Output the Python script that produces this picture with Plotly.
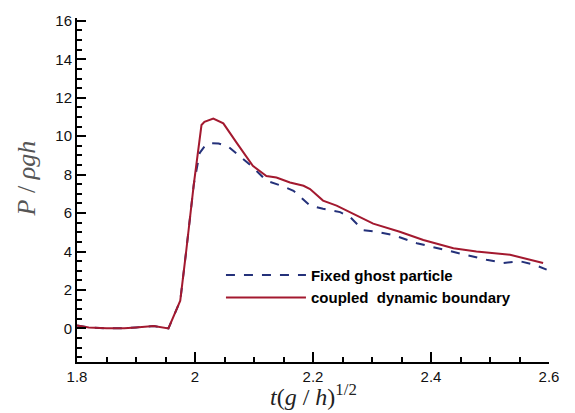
import plotly.graph_objects as go

# Fixed ghost particle (dashed)
t_fixed = [1.80, 1.82, 1.85, 1.88, 1.90, 1.93, 1.955, 1.975, 1.985, 1.998, 2.008, 2.018, 2.025, 2.040, 2.056,
           2.076, 2.099, 2.121, 2.147, 2.167, 2.195, 2.217, 2.246, 2.263, 2.285, 2.308, 2.336, 2.376,
           2.421, 2.455, 2.494, 2.523, 2.551, 2.574, 2.596]
p_fixed = [0.15, 0.05, 0.0, 0.0, 0.05, 0.12, 0.0, 1.44, 4.0, 7.5, 9.13, 9.55, 9.64, 9.62, 9.47,
           8.96, 8.36, 7.68, 7.42, 7.16, 6.39, 6.22, 6.05, 5.79, 5.11, 5.03, 4.86, 4.43,
           4.09, 3.83, 3.57, 3.40, 3.49, 3.32, 3.06]

# Coupled dynamic boundary (solid)
t_coupled = [1.80, 1.82, 1.85, 1.88, 1.90, 1.93, 1.955, 1.975, 1.985, 1.998, 2.011, 2.016, 2.031, 2.048,
             2.071, 2.098, 2.121, 2.138, 2.161, 2.184, 2.195, 2.217, 2.240, 2.257, 2.302, 2.347,
             2.387, 2.438, 2.477, 2.534, 2.568, 2.59]
p_coupled = [0.15, 0.05, 0.0, 0.0, 0.05, 0.12, 0.0, 1.44, 4.0, 7.5, 10.58, 10.75, 10.92, 10.67,
             9.64, 8.46, 7.93, 7.85, 7.59, 7.42, 7.25, 6.65, 6.39, 6.14, 5.45, 5.03,
             4.60, 4.17, 4.00, 3.83, 3.57, 3.40]

x_ticks = [1.8, 2.0, 2.2, 2.4, 2.6]
x_ticklabels = ["1.8", "2", "2.2", "2.4", "2.6"]
y_ticks = [0, 2, 4, 6, 8, 10, 12, 14, 16]

fig = go.Figure()
fig.add_trace(go.Scatter(x=t_fixed, y=p_fixed, mode="lines", name="<b>Fixed ghost particle</b>",
                         line=dict(color="#24317a", width=2, dash="dash")))
fig.add_trace(go.Scatter(x=t_coupled, y=p_coupled, mode="lines", name="<b>coupled  dynamic boundary</b>",
                         line=dict(color="#a3192f", width=2)))

tickfont = dict(family="Liberation Sans, Arial", size=15, color="#111")
fig.update_layout(
    width=575, height=413,
    margin=dict(l=77, r=26, t=13, b=51),
    paper_bgcolor="white", plot_bgcolor="white",
    showlegend=True,
    legend=dict(x=0.305, y=0.30, xanchor="left", yanchor="top",
                bgcolor="rgba(0,0,0,0)", font=dict(family="Liberation Sans, Arial", size=15, color="black"),
                tracegroupgap=0, itemwidth=80),
    xaxis=dict(range=[1.8, 2.6], tickvals=x_ticks, ticktext=x_ticklabels, ticks="inside", ticklen=10,
               tickwidth=2, tickcolor="black", showline=True, linecolor="black", linewidth=2,
               showgrid=False, zeroline=False, tickfont=tickfont,
               minor=dict(dtick=0.05, ticks="inside", ticklen=5, tickwidth=1.5, tickcolor="black")),
    yaxis=dict(range=[-1.75, 16.15], tickvals=y_ticks, ticks="inside", ticklen=9,
               tickwidth=2, tickcolor="black", showline=True, linecolor="black", linewidth=2,
               showgrid=False, zeroline=False, tickfont=tickfont,
               minor=dict(dtick=0.5, ticks="inside", ticklen=5, tickwidth=1.5, tickcolor="black")),
    annotations=[
        dict(text="<i>t</i>(<i>g</i> / <i>h</i>)<sup>1/2</sup>", xref="paper", yref="paper",
             x=0.5, y=-0.1455, xanchor="center", yanchor="bottom", showarrow=False,
             font=dict(family="Liberation Serif, Times New Roman", size=24, color="#222")),
        dict(text="<i>P</i> / <i>ρgh</i>", xref="paper", yref="paper",
             x=-0.105, y=0.535, xanchor="center", yanchor="middle", showarrow=False, textangle=-90,
             font=dict(family="Liberation Serif, Times New Roman", size=26, color="#555")),
    ],
)

fig.write_html("out.html")
